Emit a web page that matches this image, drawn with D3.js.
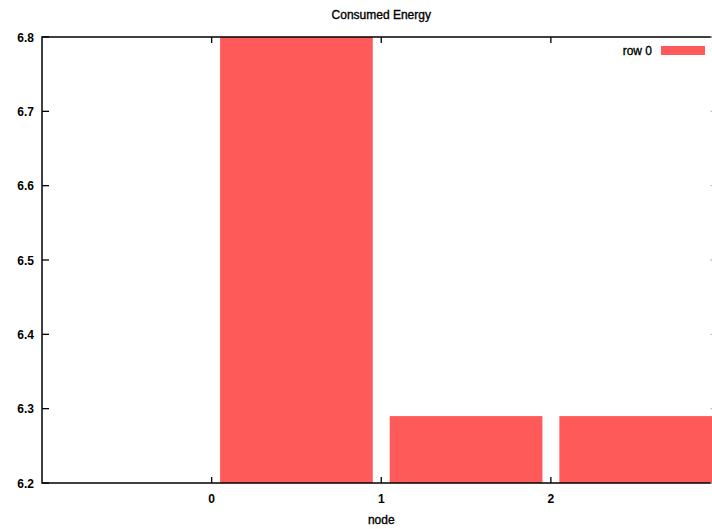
<!DOCTYPE html>
<html><head><meta charset="utf-8">
<script src="https://cdn.jsdelivr.net/npm/d3@7"></script>
<style>body{margin:0;background:#fff}svg{display:block}text{font-family:"Liberation Sans",Arial,sans-serif;fill:#000}</style>
</head><body>
<script>
const categories = [0, 1, 2];
const values = [7.0, 6.29, 6.29];
const xTicks = [0, 1, 2];
const yTicks = [6.2, 6.3, 6.4, 6.5, 6.6, 6.7, 6.8];
const seriesName = "row 0";

const W = 712, H = 529;
const L = 42, R = 720.5, T = 37, B = 483;
const svg = d3.select("body").append("svg").attr("width", W).attr("height", H);
const x = d3.scaleLinear().domain([-1, 3]).range([L, R]);
const y = d3.scaleLinear().domain([6.2, 6.8]).range([B, T]);

svg.append("defs").append("clipPath").attr("id", "c")
  .append("rect").attr("x", L).attr("y", T).attr("width", R - L).attr("height", B - T);

svg.append("g").attr("clip-path", "url(#c)").selectAll("rect").data(categories).join("rect")
  .attr("x", d => x(d + 0.05)).attr("width", d => x(d + 0.95) - x(d + 0.05))
  .attr("y", (d, i) => y(values[i])).attr("height", (d, i) => B - y(values[i]))
  .attr("fill", "#fe5a5a");

// border
svg.append("rect").attr("x", L).attr("y", T).attr("width", R - L).attr("height", B - T)
  .attr("fill", "none").attr("stroke", "#000").attr("stroke-width", 1.5);

// y ticks
const gy = svg.append("g");
yTicks.forEach(v => {
  gy.append("line").attr("x1", L).attr("x2", L + 7).attr("y1", y(v)).attr("y2", y(v)).attr("stroke", "#000").attr("stroke-width", 1.3);
  gy.append("line").attr("x1", R).attr("x2", R - 10).attr("y1", y(v)).attr("y2", y(v)).attr("stroke", "#bbb").attr("stroke-width", 1.3);
  gy.append("text").attr("x", 34).attr("y", y(v) + 4.5).attr("text-anchor", "end")
    .attr("font-size", 12).attr("font-weight", "bold").text(d3.format(".1f")(v));
});
// x ticks
const gx = svg.append("g");
xTicks.forEach(v => {
  gx.append("line").attr("x1", x(v)).attr("x2", x(v)).attr("y1", B).attr("y2", B - 6).attr("stroke", "#000").attr("stroke-width", 1.3);
  gx.append("line").attr("x1", x(v)).attr("x2", x(v)).attr("y1", T).attr("y2", T + 6).attr("stroke", "#000").attr("stroke-width", 1.3);
  gx.append("text").attr("x", x(v)).attr("y", B + 20).attr("text-anchor", "middle")
    .attr("font-size", 12).attr("font-weight", "bold").text(v);
});

svg.append("text").attr("x", x(1)).attr("y", 19).attr("text-anchor", "middle").attr("font-size", 12)
  .attr("stroke", "#000").attr("stroke-width", 0.35).text("Consumed Energy");
svg.append("text").attr("x", x(1)).attr("y", 524).attr("text-anchor", "middle").attr("font-size", 12)
  .attr("stroke", "#000").attr("stroke-width", 0.35).text("node");

// legend
svg.append("text").attr("x", 652).attr("y", 55).attr("text-anchor", "end").attr("font-size", 12)
  .attr("stroke", "#000").attr("stroke-width", 0.35).text(seriesName);
svg.append("rect").attr("x", 661).attr("y", 46).attr("width", 44).attr("height", 9).attr("fill", "#fe5a5a");
</script>
</body></html>
